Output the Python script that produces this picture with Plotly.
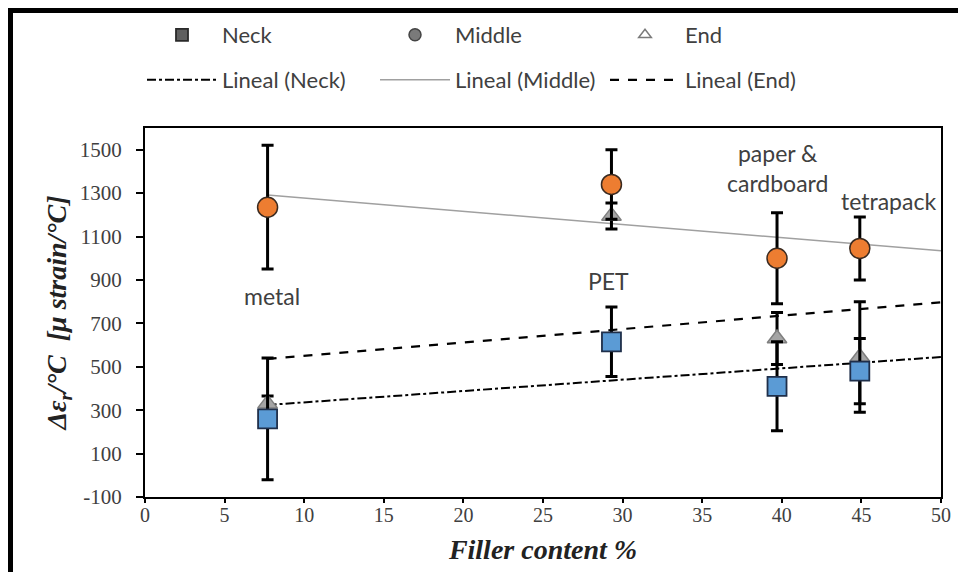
import plotly.graph_objects as go

# ---------------- data ----------------
filler = [7.7, 29.3, 39.7, 44.9]               # Filler content %
materials = ["metal", "PET", "paper &<br>cardboard", "tetrapack"]

neck = [260, 615, 410, 480]
neck_err = [280, 160, 205, 150]
middle = [1235, 1340, 1000, 1045]
middle_err = [285, 160, 210, 145]
end = [330, 1195, 630, 545]
end_err = [35, 60, 120, 255]

# linear trend lines (Excel "Lineal"), endpoints
trend_x = [7.7, 50]
trend_neck = [324, 545]
trend_middle = [1291, 1034]
trend_end = [536, 797]

# axis ticks
x_ticks = [0, 5, 10, 15, 20, 25, 30, 35, 40, 45, 50]
y_ticks = [-100, 100, 300, 500, 700, 900, 1100, 1300, 1500]
y_ticktext = ["-100", "100", "300", "500", "700", "900", "1100", "1300", "1500"]

# label positions (x, y) in data units
label_x = [8.0, 29.1, 39.7, 46.7]
label_y = [826, 895, 1416, 1264]

# ---------------- figure ----------------
OFF = 8                      # page body margin
W, H = 958, 564
L, R, T, B = 137, 25, 120, 75
pw, ph = W - L - R, H - T - B


def px2paper_x(px):          # px in window coordinates
    return (px - OFF - L) / pw


def px2paper_y(py):
    return (H - B - (py - OFF)) / ph


fig = go.Figure()

# trend lines
fig.add_trace(go.Scatter(x=trend_x, y=trend_neck, mode="lines", name="Lineal (Neck)",
                         line=dict(color="black", width=2, dash="dashdot"), legend="legend4"))
fig.add_trace(go.Scatter(x=trend_x, y=trend_middle, mode="lines", name="Lineal (Middle)",
                         line=dict(color="#a0a0a0", width=1.5), legend="legend5"))
fig.add_trace(go.Scatter(x=trend_x, y=trend_end, mode="lines", name="Lineal (End)",
                         line=dict(color="black", width=2.2, dash="dash"), legend="legend6"))

err_style = dict(type="data", color="black", thickness=3, width=6)

# data series
fig.add_trace(go.Scatter(x=filler, y=end, mode="markers", name="End", showlegend=False,
                         marker=dict(symbol="triangle-up", size=17, color="#A5A5A5",
                                     line=dict(color="#7f7f7f", width=1.5)),
                         error_y=dict(array=end_err, **err_style)))
fig.add_trace(go.Scatter(x=filler, y=middle, mode="markers", name="Middle", showlegend=False,
                         marker=dict(symbol="circle", size=20, color="#ED7D31",
                                     line=dict(color="#3a2a20", width=1.5)),
                         error_y=dict(array=middle_err, **err_style)))
fig.add_trace(go.Scatter(x=filler, y=neck, mode="markers", name="Neck", showlegend=False,
                         marker=dict(symbol="square", size=19, color="#5B9BD5",
                                     line=dict(color="#1f2f4a", width=1.8)),
                         error_y=dict(array=neck_err, **err_style)))

# legend-only marker entries (gray symbols as in the original legend)
fig.add_trace(go.Scatter(x=[None], y=[None], mode="markers", name="Neck", legend="legend",
                         marker=dict(symbol="square", size=12, color="#5f5f5f",
                                     line=dict(color="#2a2a2a", width=1.8))))
fig.add_trace(go.Scatter(x=[None], y=[None], mode="markers", name="Middle", legend="legend2",
                         marker=dict(symbol="circle", size=12, color="#7a7a7a",
                                     line=dict(color="#444", width=1.5))))
fig.add_trace(go.Scatter(x=[None], y=[None], mode="markers", name="End", legend="legend3",
                         marker=dict(symbol="triangle-up-open", size=11, color="#7a7a7a",
                                     line=dict(width=1.5))))

legend_font = dict(family="Lato", size=22, color="#404040")
text_starts = [222, 455, 685]
rows = [35, 80]
legends = {}
names = ["legend", "legend2", "legend3", "legend4", "legend5", "legend6"]
for i, nm in enumerate(names):
    row = rows[i // 3]
    ts = text_starts[i % 3]
    legends[nm] = dict(x=px2paper_x(ts - 80), y=px2paper_y(row), xanchor="left", yanchor="middle",
                       orientation="h", font=legend_font, bgcolor="rgba(0,0,0,0)",
                       itemwidth=70, borderwidth=0)

# material labels
for lx, ly, txt in zip(label_x, label_y, materials):
    fig.add_annotation(x=lx, y=ly, text=txt, showarrow=False,
                       font=dict(family="Lato", size=23, color="#404040"))

# outer image border (top and left)
fig.add_shape(type="line", xref="paper", yref="paper",
              x0=px2paper_x(10.5), x1=px2paper_x(10.5), y0=px2paper_y(8), y1=px2paper_y(580),
              line=dict(color="black", width=5))
fig.add_shape(type="line", xref="paper", yref="paper",
              x0=px2paper_x(8), x1=px2paper_x(975), y0=px2paper_y(10.5), y1=px2paper_y(10.5),
              line=dict(color="black", width=5))

axis_common = dict(showline=True, mirror=True, linecolor="black", linewidth=2,
                   ticks="outside", tickwidth=1.5, tickcolor="black",
                   showgrid=False, zeroline=False)

fig.update_layout(
    width=W, height=H,
    margin=dict(l=L, r=R, t=T, b=B, autoexpand=False),
    paper_bgcolor="white", plot_bgcolor="white",
    xaxis=dict(range=[0, 50], tickvals=x_ticks, ticklen=4, ticklabelstandoff=-5,
               tickfont=dict(family="Liberation Serif", size=20, color="#404040"),
               title=dict(text="<b><i>Filler content %</i></b>", standoff=14,
                          font=dict(family="Liberation Serif", size=28, color="#222")),
               **axis_common),
    yaxis=dict(range=[-100, 1600], tickvals=y_ticks, ticktext=y_ticktext, ticklen=7,
               ticklabelstandoff=10,
               tickfont=dict(family="Liberation Serif", size=21, color="#404040"),
               title=dict(text="<b><i>Δε<sub>r</sub>/°C  [μ strain/°C]</i></b>", standoff=5,
                          font=dict(family="Liberation Serif", size=28, color="#222")),
               **axis_common),
    **legends,
)

fig.write_html("out.html")
